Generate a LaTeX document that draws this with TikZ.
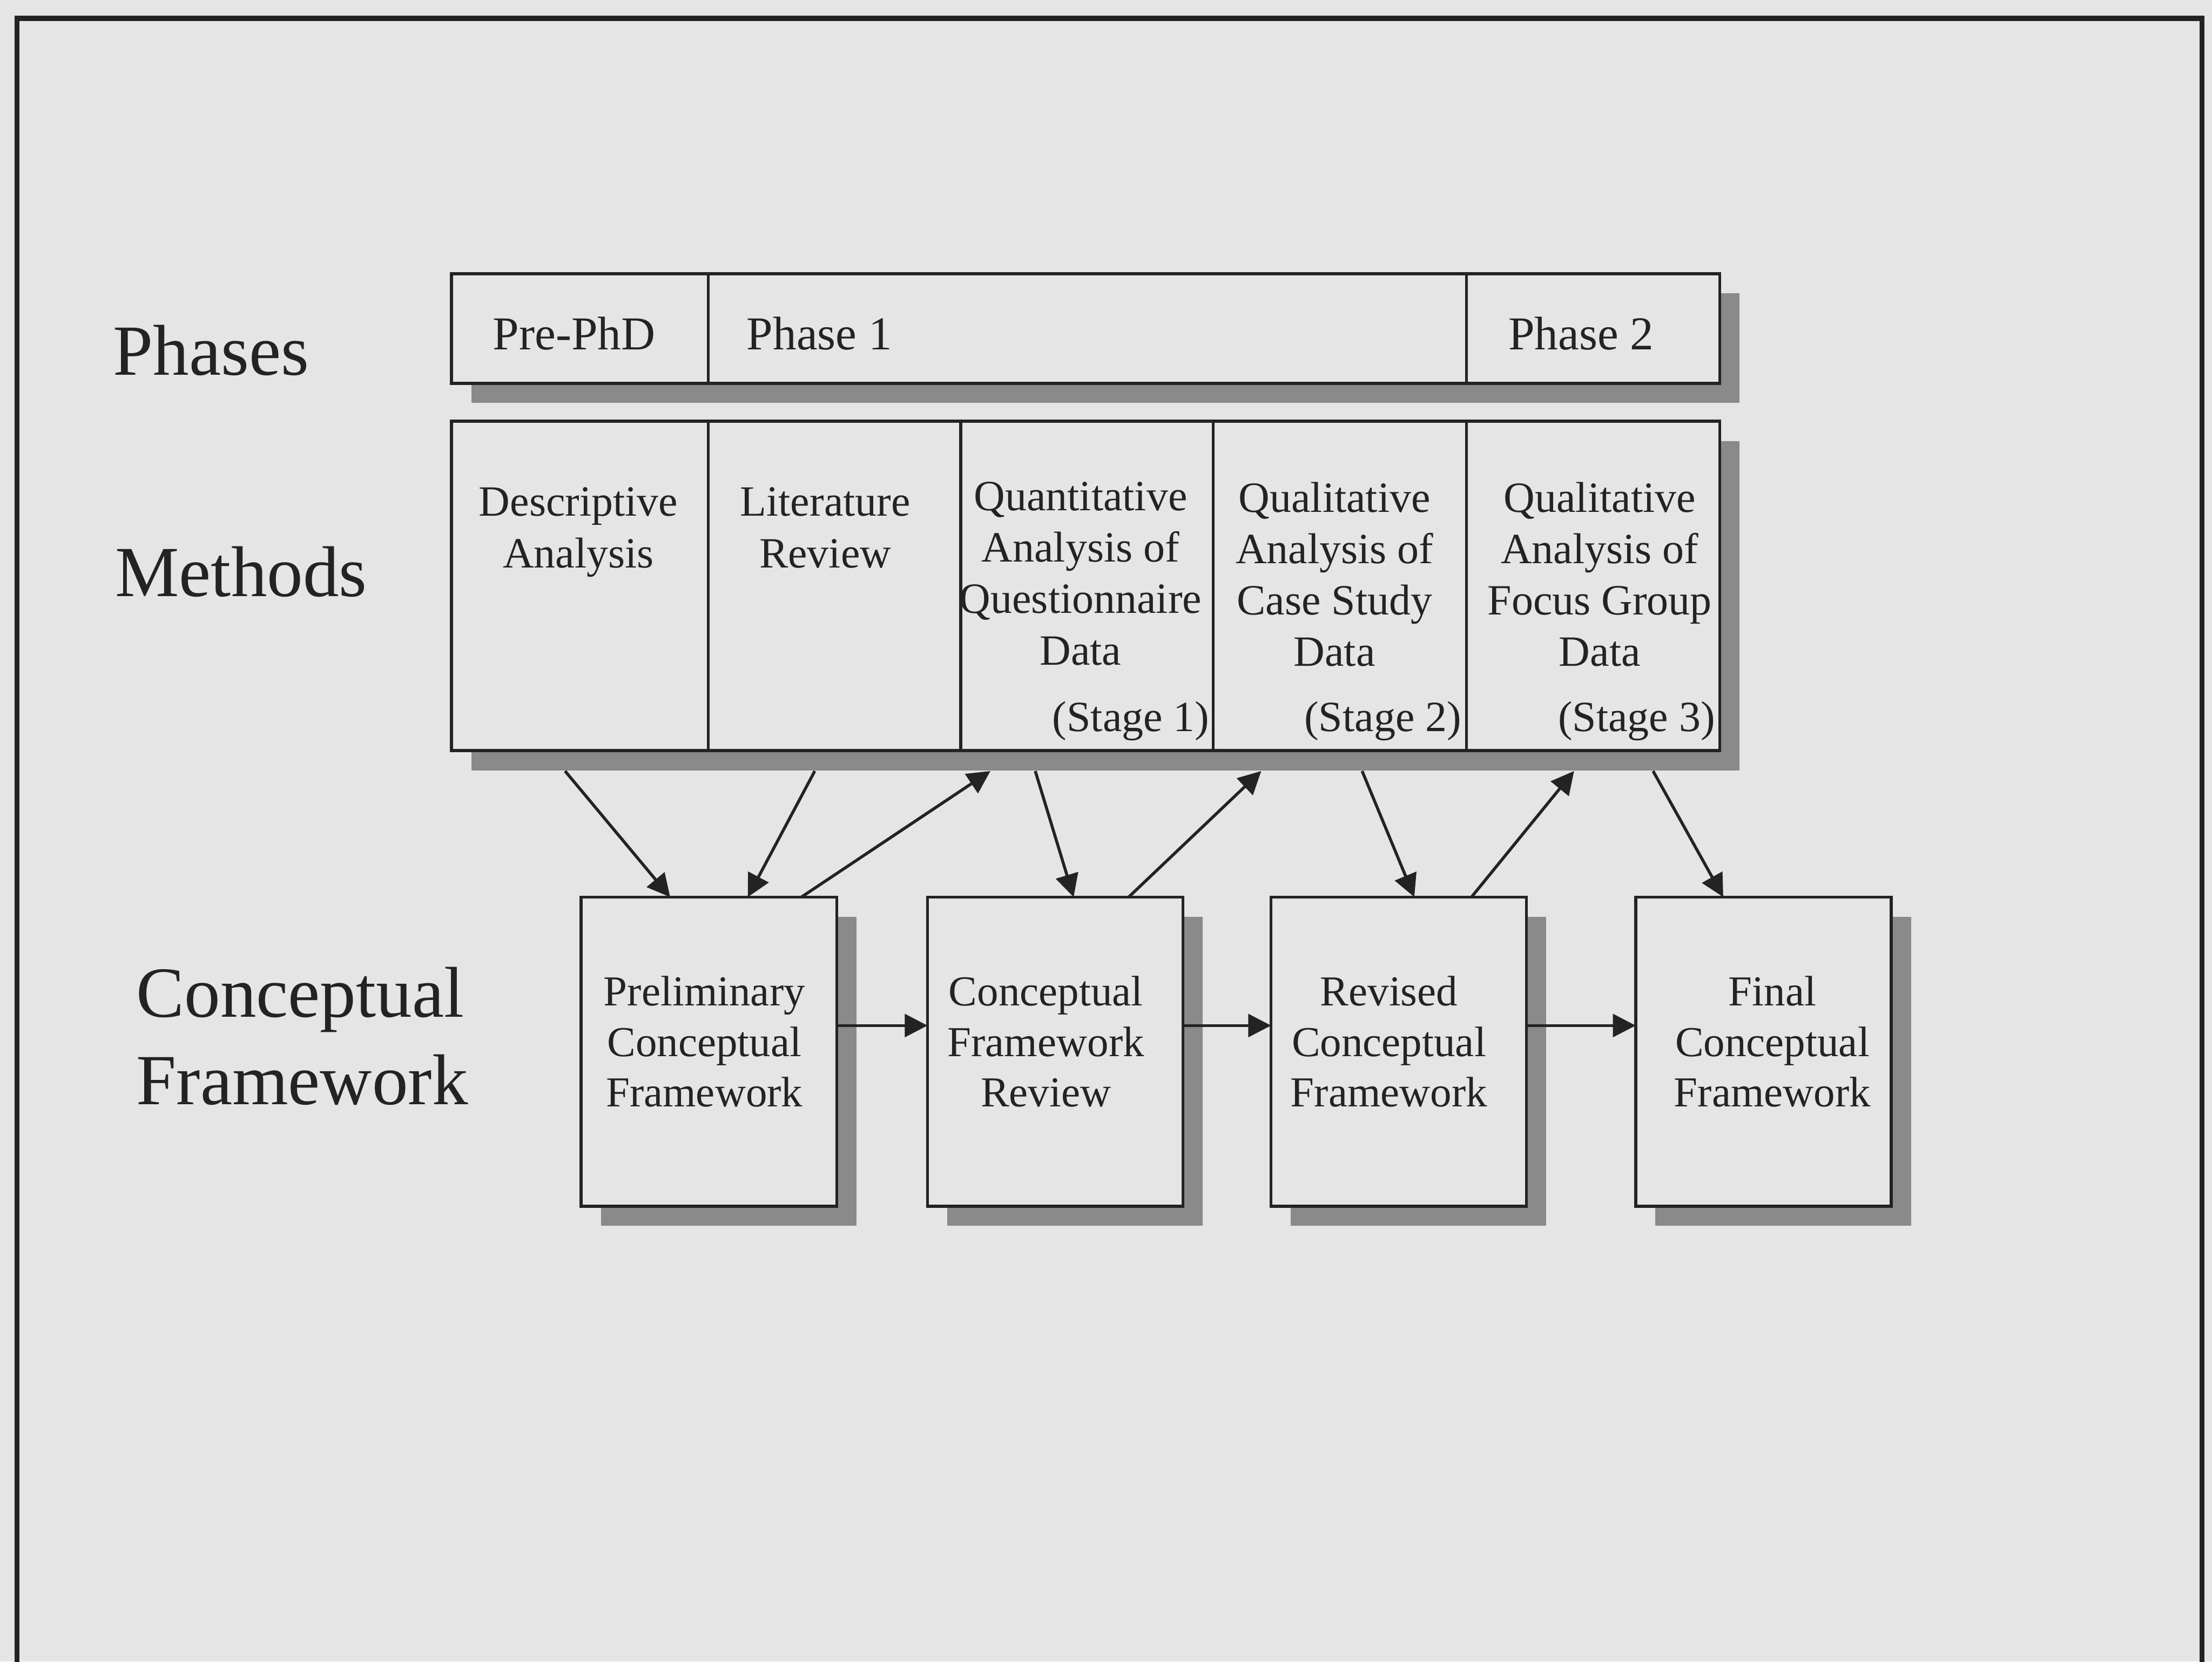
\documentclass[tikz,border=0pt]{standalone}
\usepackage{fontspec}
\setmainfont{Liberation Serif}
\usetikzlibrary{arrows.meta,calc,shadows}
\definecolor{paper}{RGB}{229,229,229}
\definecolor{ink}{RGB}{35,35,35}
\definecolor{shade}{RGB}{138,138,138}

\tikzset{
  cell/.style={draw=ink, fill=paper, line width=0.6pt, inner sep=0pt, outer sep=0pt, anchor=north west},
  shadowed/.style={drop shadow={shadow xshift=0.14cm, shadow yshift=-0.14cm, opacity=1, fill=shade}},
  rowlabel/.style={font=\fontsize{14.5}{17.6}\selectfont, text=ink, inner sep=0pt, align=left},
  phasetext/.style={font=\fontsize{9.5}{11}\selectfont, text=ink, inner sep=0pt},
  methodtext/.style={font=\fontsize{8.7}{10.36}\selectfont, text=ink, inner sep=0pt, align=center, anchor=north},
  cftext/.style={font=\fontsize{8.6}{10.17}\selectfont, text=ink, inner sep=0pt, align=center, anchor=north},
  flow/.style={draw=ink, line width=0.6pt, -{Triangle[length=4.6pt,width=4.6pt]}},
}

\begin{document}
\begin{tikzpicture}[x=0.01cm,y=-0.01cm]
% page and outer frame
\fill[paper] (0,0) rectangle (1568,1178);
\useasboundingbox (0,0) rectangle (1568,1178);
\draw[ink, line width=1pt] (12,1180) -- (12,13) -- (1561,13) -- (1561,1180);

% row labels
\node[rowlabel, anchor=base west] (lab-ph) at (79.6,266) {Phases};
\node[rowlabel, anchor=base west] (lab-me) at (81,422.7) {Methods};
\node[rowlabel, anchor=north west] (lab-cf) at (96,685) {Conceptual\\Framework};

% phases row
\node[cell, shadowed, minimum width=1.82cm,  minimum height=0.777cm] (p1) at (320,194) {};
\node[cell, shadowed, minimum width=5.375cm, minimum height=0.777cm] (p2) at (502,194) {};
\node[cell, shadowed, minimum width=1.795cm, minimum height=0.777cm] (p3) at (1039.5,194) {};
\node[phasetext, anchor=base]      (t-pre) at (407,248)   {Pre-PhD};
\node[phasetext, anchor=base west] (t-ph1) at (528.7,248) {Phase 1};
\node[phasetext, anchor=base]      (t-ph2) at (1120.8,248) {Phase 2};

% methods row
\node[cell, shadowed, minimum width=1.82cm,  minimum height=2.334cm] (m1) at (320,298.6) {};
\node[cell, shadowed, minimum width=1.79cm,  minimum height=2.334cm] (m2) at (502,298.6) {};
\node[cell, shadowed, minimum width=1.79cm,  minimum height=2.334cm] (m3) at (681,298.6) {};
\node[cell, shadowed, minimum width=1.795cm, minimum height=2.334cm] (m4) at (860,298.6) {};
\node[cell, shadowed, minimum width=1.795cm, minimum height=2.334cm] (m5) at (1039.5,298.6) {};
\node[methodtext] (m1t) at (410,345)  {Descriptive\\Analysis};
\node[methodtext] (m2t) at (585,345)  {Literature\\Review};
\node[methodtext] (m3t) at (766,341)  {Quantitative\\Analysis of\\Questionnaire\\Data};
\node[methodtext] (m4t) at (946,341)  {Qualitative\\Analysis of\\Case Study\\Data};
\node[methodtext] (m5t) at (1134,341) {Qualitative\\Analysis of\\Focus Group\\Data};
\node[methodtext, anchor=base east] (s1) at (858,518.5)    {(Stage 1)};
\node[methodtext, anchor=base east] (s2) at (1036.6,518.5) {(Stage 2)};
\node[methodtext, anchor=base east] (s3) at (1216.5,518.5) {(Stage 3)};

% conceptual framework row
\node[cell, shadowed, minimum width=1.81cm, minimum height=2.19cm] (cf1) at (412,636) {};
\node[cell, shadowed, minimum width=1.81cm, minimum height=2.19cm] (cf2) at (657.5,636) {};
\node[cell, shadowed, minimum width=1.81cm, minimum height=2.19cm] (cf3) at (901,636) {};
\node[cell, shadowed, minimum width=1.81cm, minimum height=2.19cm] (cf4) at (1159.5,636) {};
\node[cftext] (cf1t) at (499.3,691.4)  {Preliminary\\Conceptual\\Framework};
\node[cftext] (cf2t) at (741.4,691.4)  {Conceptual\\Framework\\Review};
\node[cftext] (cf3t) at (984.6,691.4)  {Revised\\Conceptual\\Framework};
\node[cftext] (cf4t) at (1256.4,691.4) {Final\\Conceptual\\Framework};

% exchanges between methods and framework versions
\draw[flow] ($(m1.south)+(-10.5,14.5)$) -- ($(cf1.north)+(-27.5,0)$);
\draw[flow] ($(m2.south)+(-14,14.5)$)   -- ($(cf1.north)+(27.5,0)$);
\draw[flow] ($(cf1.north)+(65.5,0)$)    -- ($(m3.south)+(-68.5,14.5)$);
\draw[flow] ($(m3.south)+(-36.7,14.5)$) -- ($(cf2.north)+(13,0)$);
\draw[flow] ($(cf2.north)+(52,0)$)      -- ($(m4.south)+(-55.75,14.5)$);
\draw[flow] ($(m4.south)+(15.75,14.5)$) -- ($(cf3.north)+(11,0)$);
\draw[flow] ($(cf3.north)+(51.5,0)$)    -- ($(m5.south)+(-13.5,14.5)$);
\draw[flow] ($(m5.south)+(42.5,14.5)$)  -- ($(cf4.north)+(-28.5,0)$);

% framework progression
\draw[flow] ($(cf1.east)+(0,-18.5)$) -- ($(cf2.west)+(0,-18.5)$);
\draw[flow] ($(cf2.east)+(0,-18.5)$) -- ($(cf3.west)+(0,-18.5)$);
\draw[flow] ($(cf3.east)+(0,-18.5)$) -- ($(cf4.west)+(0,-18.5)$);
\end{tikzpicture}
\end{document}
